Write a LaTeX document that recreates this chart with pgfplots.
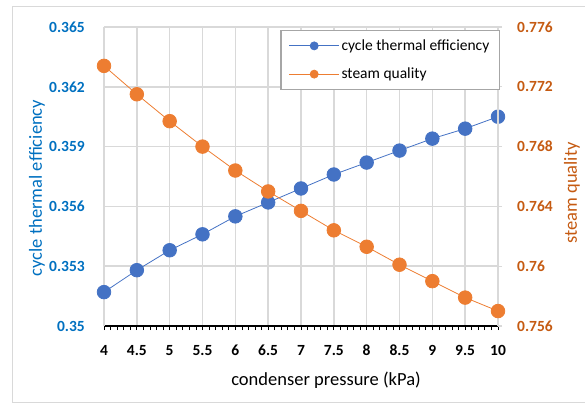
\documentclass[border=0pt]{standalone}
\usepackage{pgfplots}
\pgfplotsset{compat=1.18}
\usepackage{fontspec}
\setmainfont{Carlito}
\definecolor{serblue}{HTML}{4472C4}
\definecolor{serorange}{HTML}{ED7D31}
\definecolor{leftcol}{HTML}{0070C0}
\definecolor{rightcol}{HTML}{C55A11}
\definecolor{gridgray}{HTML}{D9D9D9}
\definecolor{leggray}{HTML}{A6A6A6}
\begin{document}
\begin{tikzpicture}
\begin{axis}[
  scale only axis, width=394pt, height=299pt,
  at={(0pt,0pt)}, anchor=south west,
  xmin=4, xmax=10, ymin=0.35, ymax=0.365,
  clip=false,
  axis lines*=left,
  axis line style={-},
  x axis line style={black, line width=1.2pt},
  y axis line style={gridgray, line width=1.5pt},
  xtick={4,4.5,5,5.5,6,6.5,7,7.5,8,8.5,9,9.5,10},
  xticklabels={4,4.5,5,5.5,6,6.5,7,7.5,8,8.5,9,9.5,10},
  minor x tick num=4,
  ytick={0.35,0.353,0.356,0.359,0.362,0.365},
  yticklabels={0.35,0.353,0.356,0.359,0.362,0.365},
  tick align=outside,
  major tick length=4pt, minor tick length=4pt,
  x tick style={black, line width=0.8pt},
  y tick style={draw=none},
  grid=major,
  major grid style={gridgray, line width=1.5pt},
  xticklabel style={font=\fontsize{15.5}{18}\selectfont\bfseries, anchor=base, yshift=-25pt, inner sep=0pt},
  yticklabel style={font=\fontsize{15.5}{18}\selectfont\bfseries, text=leftcol, anchor=east, inner sep=0pt, xshift=-15pt},
  xlabel={condenser pressure (kPa)},
  xlabel style={at={(axis description cs:0.5635,-0.1806)}, anchor=center, font=\fontsize{18.5}{22}\selectfont},
  ylabel={cycle thermal efficiency},
  ylabel style={at={(axis description cs:-0.170,0.4615)}, anchor=center, rotate=0, text=leftcol, font=\fontsize{18.5}{22}\selectfont},
]
\addplot[serblue, line width=0.8pt, mark=*, mark size=6.8pt, mark options={fill=serblue, draw=serblue}] coordinates {
(4,0.3517) (4.5,0.3528) (5,0.3538) (5.5,0.3546) (6,0.3555) (6.5,0.3562) (7,0.3569)
(7.5,0.3576) (8,0.3582) (8.5,0.3588) (9,0.3594) (9.5,0.3599) (10,0.3605)};
\end{axis}
\begin{axis}[
  scale only axis, width=394pt, height=299pt,
  at={(0pt,0pt)}, anchor=south west,
  xmin=4, xmax=10, ymin=0.756, ymax=0.776,
  clip=false,
  axis x line=none,
  axis y line*=right,
  axis line style={-},
  y axis line style={gridgray, line width=1.5pt},
  ytick={0.756,0.76,0.764,0.768,0.772,0.776},
  yticklabels={0.756,0.76,0.764,0.768,0.772,0.776},
  tick align=outside,
  major tick length=4pt,
  y tick style={gridgray, line width=1.2pt},
  yticklabel style={font=\fontsize{15.5}{18}\selectfont\bfseries, text=rightcol, anchor=west, inner sep=0pt, xshift=15pt},
  ylabel={steam quality},
  ylabel style={at={(axis description cs:1.1878,0.4448)}, anchor=center, rotate=0, text=rightcol, font=\fontsize{18.5}{22}\selectfont},
  legend cell align=left,
  legend image code/.code={\draw[mark repeat=2, mark phase=2, mark size=4pt] plot coordinates {(0pt,0pt) (25pt,0pt) (50pt,0pt)};},
  legend style={at={(axis cs:10,0.776)}, anchor=north east, xshift=2pt, yshift=-3pt,
    draw=leggray, line width=1.5pt, font=\fontsize{15.5}{18}\selectfont,
    inner xsep=8pt, inner ysep=7pt, row sep=12pt},
]
\addlegendimage{serblue, line width=0.8pt, mark=*, mark options={fill=serblue, draw=serblue}}
\addlegendentry{cycle thermal efficiency}
\addplot[serorange, line width=0.8pt, mark=*, mark size=6.8pt, mark options={fill=serorange, draw=serorange}] coordinates {
(4,0.7734) (4.5,0.7715) (5,0.7697) (5.5,0.7680) (6,0.7664) (6.5,0.7650) (7,0.7637)
(7.5,0.7624) (8,0.7613) (8.5,0.7601) (9,0.7590) (9.5,0.7579) (10,0.7570)};
\addlegendentry{steam quality}
\end{axis}
\draw[gridgray, line width=1pt] (-91pt,-76pt) rectangle (490pt,319pt);
\pgfresetboundingbox
\useasboundingbox (-104pt,-78pt) rectangle (481pt,326pt);
\end{tikzpicture}
\end{document}
